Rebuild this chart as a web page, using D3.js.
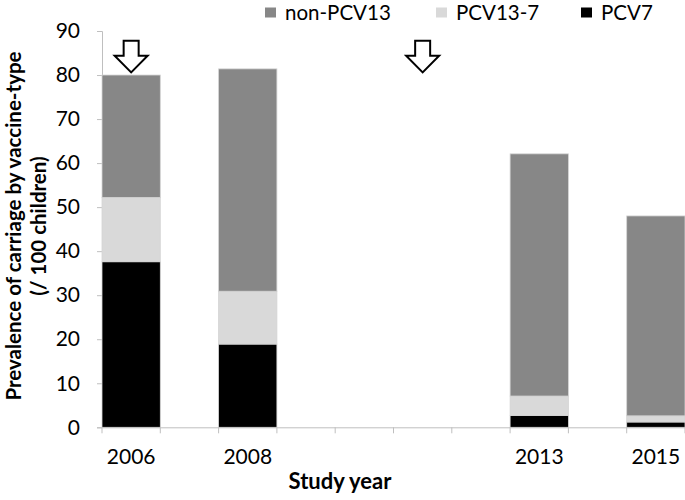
<!DOCTYPE html>
<html><head><meta charset="utf-8">
<script src="https://cdn.jsdelivr.net/npm/d3@7"></script>
<style>body{margin:0;background:#fff}svg{display:block}text{font-family:Lato,"Open Sans",sans-serif}</style>
</head><body><svg id="c" width="685" height="500"></svg>
<script>
const years = ["2006","2007","2008","2009","2010","2011","2012","2013","2014","2015"];
const labeledYears = ["2006","2008","2013","2015"];
const studyYears = ["2006","2008","2013","2015"];
const pcv7 = [37.6, 18.9, 2.7, 1.2];
const pcv13minus7 = [14.6, 12.0, 4.4, 1.4];
const nonPcv13 = [27.8, 50.5, 55.0, 45.4];
const seriesNames = ["non-PCV13","PCV13-7","PCV7"];
const seriesColors = ["#878787","#d9d9d9","#000000"];
const yTicks = [0,10,20,30,40,50,60,70,80,90];
const arrowYears = ["2006","2011"];

const svg = d3.select("#c");
const x = d3.scaleBand().domain(years).range([102, 685]).padding(0);
const y = d3.scaleLinear().domain([0, 90]).range([427.3, 31]);
const axisColor = "#bfbfbf";

const rows = studyYears.map((yr, i) => ({year: yr, PCV7: pcv7[i], "PCV13-7": pcv13minus7[i], "non-PCV13": nonPcv13[i]}));
const stack = d3.stack().keys(["PCV7","PCV13-7","non-PCV13"]);
const stacked = stack(rows);
const colorOf = k => seriesColors[seriesNames.indexOf(k)];

// y axis
const yAxis = svg.append("g").attr("transform", "translate(102,0)")
  .call(d3.axisLeft(y).tickValues(yTicks).tickSize(5).tickPadding(17));
yAxis.select(".domain").attr("stroke", axisColor);
yAxis.selectAll(".tick line").attr("stroke", axisColor);
yAxis.selectAll(".tick text").attr("font-size", 21).attr("fill", "#000");

// bars
svg.append("g").selectAll("g").data(stacked).join("g")
  .attr("fill", d => colorOf(d.key))
  .selectAll("rect").data(d => d).join("rect")
  .attr("x", d => x(d.data.year))
  .attr("width", x.bandwidth())
  .attr("y", d => y(d[1]))
  .attr("height", d => y(d[0]) - y(d[1]))
  .attr("stroke", "#d4d4d4").attr("stroke-width", 0.8);

// x axis
const xAxis = svg.append("g").attr("transform", `translate(0,${y(0)})`)
  .call(d3.axisBottom(x).tickValues(labeledYears).tickSize(0).tickPadding(22));
xAxis.select(".domain").attr("stroke", axisColor);
xAxis.selectAll(".tick text").attr("font-size", 21).attr("fill", "#000");
const bounds = years.map(d => x(d)).concat([x(years[years.length-1]) + x.bandwidth()]);
svg.append("g").selectAll("line").data(bounds).join("line")
  .attr("x1", d => d).attr("x2", d => d)
  .attr("y1", y(0)).attr("y2", y(0) + 6)
  .attr("stroke", axisColor);

// arrows
const arrowTop = 87.8, arrowHead = 84.4, arrowTip = 80.6;
svg.append("g").selectAll("path").data(arrowYears).join("path")
  .attr("d", d => {
    const cx = x(d) + x.bandwidth() / 2;
    const t = y(arrowTop), h = y(arrowHead), p = y(arrowTip);
    return `M${cx-7.5},${t}H${cx+7.5}V${h}H${cx+16.5}L${cx},${p}L${cx-16.5},${h}H${cx-7.5}Z`;
  })
  .attr("fill", "#fff").attr("stroke", "#000").attr("stroke-width", 2).attr("stroke-linejoin", "miter");

// legend
const legendX = [265, 436, 581];
const lg = svg.append("g").selectAll("g").data(seriesNames).join("g")
  .attr("transform", (d, i) => `translate(${legendX[i]},0)`);
lg.append("rect").attr("x", 0).attr("y", 7.5).attr("width", 11).attr("height", 10)
  .attr("fill", (d, i) => seriesColors[i]);
lg.append("text").attr("x", 20).attr("y", 19.5).attr("font-size", 20.5).text(d => d);

// axis titles
svg.append("text").attr("x", 340).attr("y", 489).attr("text-anchor", "middle")
  .attr("font-size", 22).attr("font-weight", "bold").text("Study year");
const yt = svg.append("text").attr("transform", "translate(0,226) rotate(-90)")
  .attr("text-anchor", "middle").attr("font-size", 20.5).attr("font-weight", "bold");
yt.append("tspan").attr("x", 0).attr("y", 21).text("Prevalence of carriage by vaccine-type");
yt.append("tspan").attr("x", 0).attr("y", 46).text("(/ 100 children)");
</script></body></html>
